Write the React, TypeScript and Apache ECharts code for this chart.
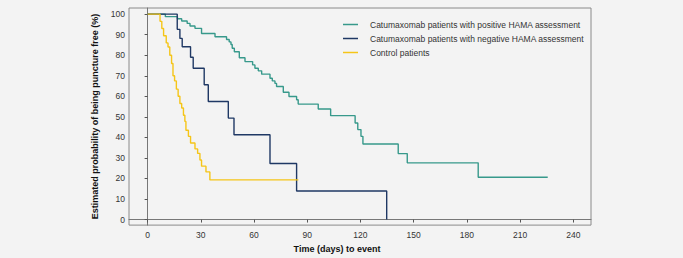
import React, { useEffect, useRef } from "react";
import * as echarts from "echarts";

const seriesNames = [
  "Catumaxomab patients with positive HAMA assessment",
  "Catumaxomab patients with negative HAMA assessment",
  "Control patients",
];

// [day, estimated % puncture free]
const positiveHama: [number, number][] = [
  [0, 100], [10, 98.8], [16.8, 97.8], [19.2, 96.7], [22.3, 95.5], [23.9, 94.2], [26.7, 93.1],
  [30.4, 90.6], [38, 89], [44.5, 87.7], [46, 86.5], [47, 85.2], [47.7, 83.4], [48.9, 81.7],
  [51.7, 78.8], [54.9, 76.9], [59.2, 75.3], [60.5, 73.7], [62.4, 72.4], [64.3, 70.8],
  [69, 68.8], [70.3, 67.5], [71.8, 66.3], [72.7, 64.8], [76.5, 62], [79.7, 59.9],
  [84, 58.3], [84.9, 56.2], [96.2, 53.8], [103.2, 50.6], [117, 47], [118.5, 43.8],
  [120.3, 40.5], [121.4, 36.8], [141.3, 32.1], [146.4, 27.6], [186.4, 20.6], [225.6, 20.6],
];

const negativeHama: [number, number][] = [
  [0, 100], [16.7, 92.6], [18.2, 88.2], [19.5, 84.1], [24.2, 79], [25.7, 73.7],
  [31.9, 65.6], [34.2, 57.5], [45.5, 49.4], [48.7, 41.3], [69, 27.3], [84, 13.9],
  [134.8, 0],
];

const controlPatients: [number, number][] = [
  [0, 100], [7, 96.5], [8, 93], [9, 89.5], [10.5, 86], [11.5, 84], [12.5, 80],
  [13.5, 76], [14.3, 70], [15.2, 67.5], [16.2, 63.5], [17.2, 60], [18.2, 56.5],
  [19.2, 54.3], [20.2, 50.8], [21, 47.8], [21.6, 43.5], [23, 40.5], [24.2, 37.3],
  [26.7, 34.4], [28.2, 32.2], [29.5, 29], [30.4, 26], [32.9, 23.2], [35.1, 19.3],
  [85, 19.3],
];

const xTicks = [0, 30, 60, 90, 120, 150, 180, 210, 240];
const yTicks = [0, 10, 20, 30, 40, 50, 60, 70, 80, 90, 100];

const colors = ["#37998b", "#1f3864", "#f5c518"];
const font = "'Liberation Sans', Arial, Helvetica, sans-serif";

export default function App() {
  const ref = useRef<HTMLDivElement>(null);
  useEffect(() => {
    if (!ref.current) return;
    const chart = echarts.init(ref.current, undefined, { renderer: "svg" });
    const datasets = [positiveHama, negativeHama, controlPatients];
    chart.setOption({
      animation: false,
      backgroundColor: "#f3f3f3",
      textStyle: { fontFamily: font },
      grid: {
        left: 129,
        top: 8,
        right: 92,
        bottom: 32,
        show: true,
        borderColor: "#8a8a8a",
        borderWidth: 1,
        backgroundColor: "transparent",
      },
      legend: {
        orient: "vertical",
        left: 338,
        top: 15,
        itemWidth: 15,
        itemHeight: 1.5,
        itemGap: 5,
        icon: "rect",
        data: seriesNames,
        textStyle: {
          fontFamily: font,
          fontSize: 8.5,
          color: "#333",
          padding: [0, 0, 0, 7],
        },
      },
      xAxis: {
        type: "value",
        min: -10.5,
        max: 250,
        name: "Time (days) to event",
        nameLocation: "middle",
        nameGap: 15,
        nameTextStyle: {
          fontFamily: font,
          fontWeight: "bold",
          fontSize: 9,
          color: "#111",
          padding: [0, 46, 0, 0],
        },
        splitLine: { show: false },
        axisLine: { show: true, lineStyle: { color: "#777", width: 1 } },
        axisTick: { show: true, length: 3, customValues: xTicks, lineStyle: { color: "#555" } },
        axisLabel: {
          customValues: xTicks,
          fontSize: 8.5,
          color: "#333",
          margin: 5,
          fontFamily: font,
        },
      },
      yAxis: {
        type: "value",
        min: -2.7,
        max: 103,
        name: "Estimated probability of being puncture free (%)",
        nameLocation: "middle",
        nameGap: 29,
        nameTextStyle: {
          fontFamily: font,
          fontWeight: "bold",
          fontSize: 9,
          color: "#111",
        },
        splitLine: { show: false },
        axisLine: { show: true, lineStyle: { color: "#777", width: 1 } },
        axisTick: { show: true, length: 3, customValues: yTicks, lineStyle: { color: "#555" } },
        axisLabel: {
          customValues: yTicks,
          fontSize: 8.5,
          color: "#333",
          margin: 4,
          fontFamily: font,
        },
      },
      series: datasets.map((d, i) => ({
        name: seriesNames[i],
        type: "line",
        step: "end",
        data: d,
        showSymbol: false,
        symbol: "none",
        color: colors[i],
        lineStyle: { width: 1.4, color: colors[i] },
        z: 2 + i,
      })),
    });
    return () => chart.dispose();
  }, []);
  return (
    <div
      ref={ref}
      style={{ position: "fixed", left: 0, top: 0, width: 683, height: 258 }}
    />
  );
}
